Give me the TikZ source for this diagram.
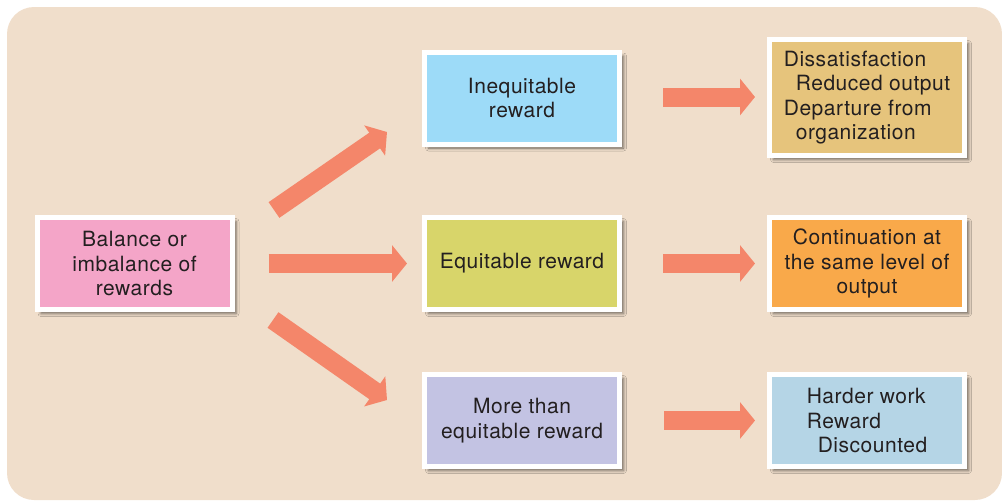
\documentclass[tikz,border=0pt]{standalone}
\usepackage{fontspec}
\setmainfont[LetterSpace=2.5]{TeX Gyre Heros}
\usetikzlibrary{arrows.meta,calc,shadows.blur}
\definecolor{bgc}{RGB}{240,222,203}
\definecolor{pinkc}{RGB}{244,165,200}
\definecolor{bluec}{RGB}{157,219,248}
\definecolor{greenc}{RGB}{216,213,106}
\definecolor{lavc}{RGB}{195,195,227}
\definecolor{tanc}{RGB}{230,196,124}
\definecolor{orangec}{RGB}{249,169,74}
\definecolor{paleblue}{RGB}{181,213,230}
\definecolor{arrowc}{RGB}{244,134,106}
\definecolor{textc}{RGB}{35,31,32}
\tikzset{
  box/.style={draw=white, line width=5pt, minimum width=195pt, minimum height=92pt,
    align=center, text=textc, font=\fontsize{21}{24.5}\selectfont, inner sep=0pt,
    blur shadow={shadow xshift=4pt, shadow yshift=-4pt, shadow blur radius=3pt, shadow opacity=55}},
  bigarrow/.style={draw=arrowc, line width=19pt, -{Triangle[length=15pt,width=36pt]}, color=arrowc}
}
\begin{document}
\begin{tikzpicture}[x=1pt,y=-1pt]
\useasboundingbox (0,0) rectangle (1002,501);
\fill[bgc, rounded corners=27pt] (7,7) rectangle (1002,500);

\node[box, fill=pinkc] (bal) at (134.5,263.5) {Balance or\\imbalance of\\rewards};
\node[box, fill=bluec] (ineq) at (522,98) {Inequitable\\reward};
\node[box, fill=greenc] (eq) at (522,263.5) {Equitable reward};
\node[box, fill=lavc] (more) at (522,420.5) {More than\\equitable reward};
\node[box, fill=tanc, minimum height=116pt, align=left] (diss) at (867,97.5)
  {Dissatisfaction\\\hspace*{12pt}Reduced output\\Departure from\\\hspace*{12pt}organization};
\node[box, fill=orangec] (cont) at (867,263.5) {Continuation at\\the same level of\\output};
\node[box, fill=paleblue, align=left] (hard) at (867,420.5)
  {Harder work\\Reward\\\hspace*{11pt}Discounted};

\coordinate (up1) at (274,210);
\coordinate (up2) at (387,132);
\coordinate (dn1) at (273,320);
\coordinate (dn2) at (387,400);

\draw[bigarrow] (up1) -- (up2);
\draw[bigarrow] (dn1) -- (dn2);
\draw[bigarrow] ($(bal.east)+(34,0)$) -- ($(eq.west)+(-15,0)$);
\draw[bigarrow] ($(ineq.east)+(41,-1)$) -- ($(diss.west)+(-12,-0.5)$);
\draw[bigarrow] ($(eq.east)+(41,0)$) -- ($(cont.west)+(-12,0)$);
\draw[bigarrow] ($(more.east)+(42,0)$) -- ($(hard.west)+(-12,0)$);
\end{tikzpicture}
\end{document}
